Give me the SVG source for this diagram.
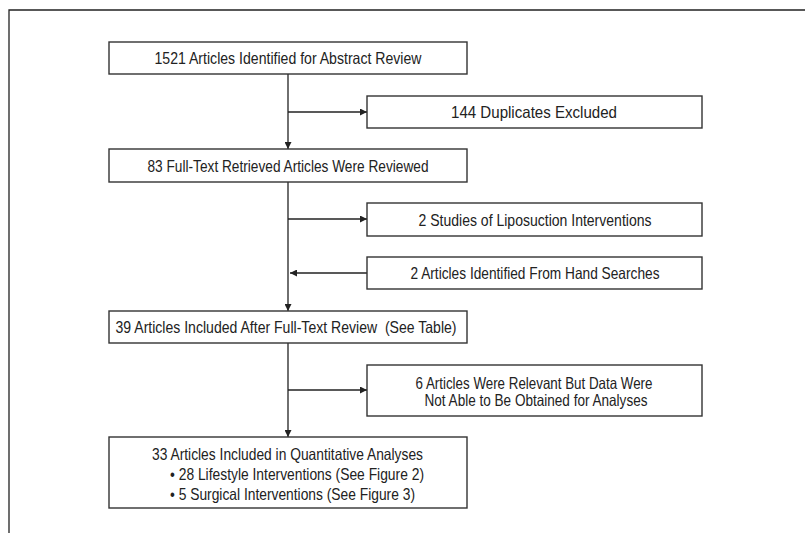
<svg xmlns="http://www.w3.org/2000/svg" width="805" height="533" viewBox="0 0 805 533">
<defs>
<marker id="ah" viewBox="0 0 10 10" refX="10" refY="5" markerWidth="9" markerHeight="7" markerUnits="userSpaceOnUse" orient="auto">
<path d="M0,0 L10,5 L0,10 Z" fill="#222"/>
</marker>
<style>
.box{fill:#fff;stroke:#333;stroke-width:1.4}
.t{font-family:"Liberation Sans",Arial,sans-serif;font-size:16.5px;fill:#222}
.c{text-anchor:middle}
.ln{stroke:#222;stroke-width:1.3;fill:none}
</style>
</defs>
<rect width="805" height="533" fill="#fff"/>
<path d="M9,533 V10 H805" fill="none" stroke="#222" stroke-width="1.3"/>
<g id="connectors">
<line class="ln" x1="288" y1="74" x2="288" y2="149" marker-end="url(#ah)"/>
<line class="ln" x1="288" y1="112" x2="367" y2="112" marker-end="url(#ah)"/>
<line class="ln" x1="288" y1="182" x2="288" y2="311" marker-end="url(#ah)"/>
<line class="ln" x1="288" y1="219" x2="367" y2="219" marker-end="url(#ah)"/>
<line class="ln" x1="367" y1="273" x2="290" y2="273" marker-end="url(#ah)"/>
<line class="ln" x1="288" y1="343" x2="288" y2="437" marker-end="url(#ah)"/>
<line class="ln" x1="288" y1="390" x2="367" y2="390" marker-end="url(#ah)"/>
</g>
<g id="n1">
<rect class="box" x="109" y="42" width="358" height="32"/>
<text class="t c" x="288" y="64" textLength="267" lengthAdjust="spacingAndGlyphs">1521 Articles Identified for Abstract Review</text>
</g>
<g id="n2">
<rect class="box" x="367" y="96" width="335" height="32"/>
<text class="t c" x="534" y="118" textLength="166" lengthAdjust="spacingAndGlyphs">144 Duplicates Excluded</text>
</g>
<g id="n3">
<rect class="box" x="109" y="149" width="358" height="33"/>
<text class="t c" x="288" y="171.5" textLength="281" lengthAdjust="spacingAndGlyphs">83 Full-Text Retrieved Articles Were Reviewed</text>
</g>
<g id="n4">
<rect class="box" x="367" y="203" width="335" height="33"/>
<text class="t c" x="535" y="225.5" textLength="233" lengthAdjust="spacingAndGlyphs">2 Studies of Liposuction Interventions</text>
</g>
<g id="n5">
<rect class="box" x="367" y="257" width="335" height="32"/>
<text class="t c" x="535" y="279" textLength="249" lengthAdjust="spacingAndGlyphs">2 Articles Identified From Hand Searches</text>
</g>
<g id="n6">
<rect class="box" x="109" y="311" width="358" height="32"/>
<text class="t c" x="286" y="333" textLength="341" lengthAdjust="spacingAndGlyphs" xml:space="preserve">39 Articles Included After Full-Text Review  (See Table)</text>
</g>
<g id="n7">
<rect class="box" x="367" y="365" width="335" height="51"/>
<text class="t c" x="534" y="389" textLength="237" lengthAdjust="spacingAndGlyphs">6 Articles Were Relevant But Data Were</text>
<text class="t c" x="536" y="406" textLength="223" lengthAdjust="spacingAndGlyphs">Not Able to Be Obtained for Analyses</text>
</g>
<g id="n8">
<rect class="box" x="109" y="437" width="358" height="71"/>
<text class="t c" x="287.5" y="460" textLength="271" lengthAdjust="spacingAndGlyphs">33 Articles Included in Quantitative Analyses</text>
<text class="t" x="170" y="480" textLength="254" lengthAdjust="spacingAndGlyphs">• 28 Lifestyle Interventions (See Figure 2)</text>
<text class="t" x="170" y="499.5" textLength="245" lengthAdjust="spacingAndGlyphs">• 5 Surgical Interventions (See Figure 3)</text>
</g>
</svg>
